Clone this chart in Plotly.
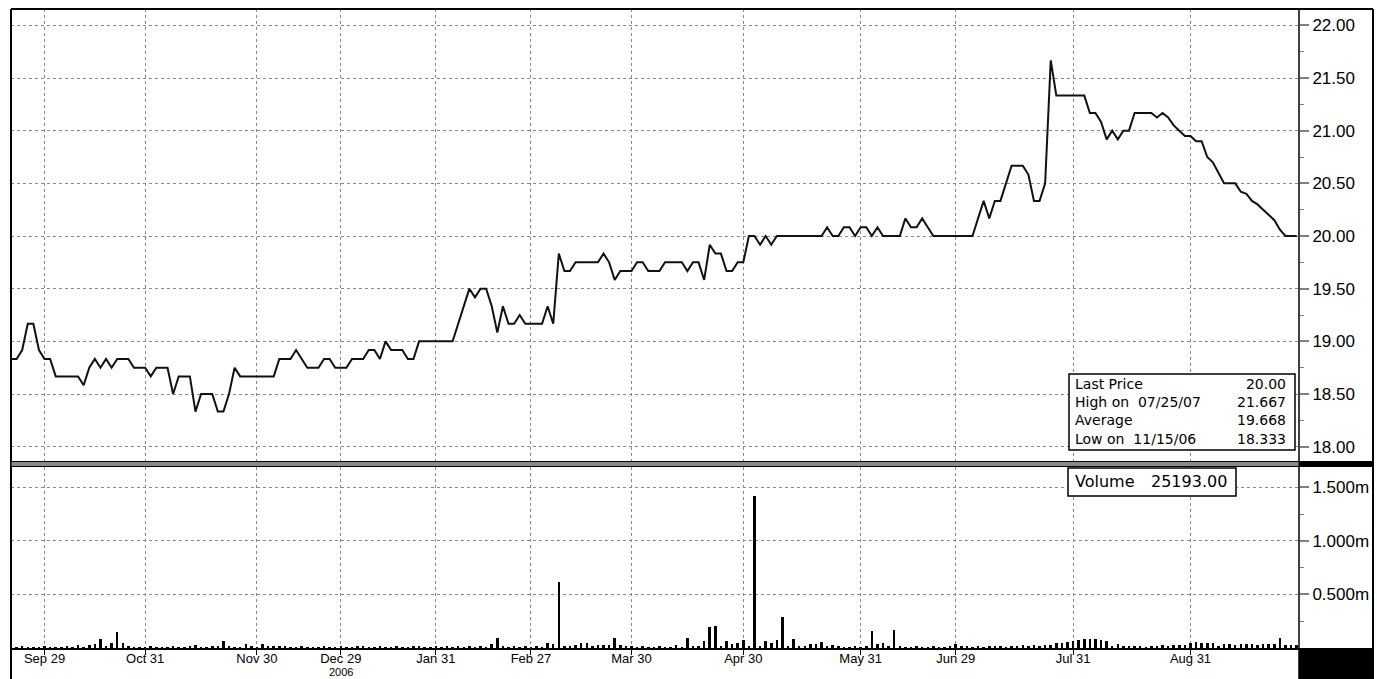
import plotly.graph_objects as go

# ---------------- data ----------------
price = [
    18.833, 18.833, 18.917, 19.167, 19.167, 18.917, 18.833, 18.833, 18.667, 18.667,
    18.667, 18.667, 18.667, 18.583, 18.75, 18.833, 18.75, 18.833, 18.75, 18.833,
    18.833, 18.833, 18.75, 18.75, 18.75, 18.667, 18.75, 18.75, 18.75, 18.5,
    18.667, 18.667, 18.667, 18.333, 18.5, 18.5, 18.5, 18.333, 18.333, 18.5,
    18.75, 18.667, 18.667, 18.667, 18.667, 18.667, 18.667, 18.667, 18.833, 18.833,
    18.833, 18.917, 18.833, 18.75, 18.75, 18.75, 18.833, 18.833, 18.75, 18.75,
    18.75, 18.833, 18.833, 18.833, 18.917, 18.917, 18.833, 19.0, 18.917, 18.917,
    18.917, 18.833, 18.833, 19.0, 19.0, 19.0, 19.0, 19.0, 19.0, 19.0,
    19.167, 19.333, 19.5, 19.417, 19.5, 19.5, 19.333, 19.083, 19.333, 19.167,
    19.167, 19.25, 19.167, 19.167, 19.167, 19.167, 19.333, 19.167, 19.833, 19.667,
    19.667, 19.75, 19.75, 19.75, 19.75, 19.75, 19.833, 19.75, 19.583, 19.667,
    19.667, 19.667, 19.75, 19.75, 19.667, 19.667, 19.667, 19.75, 19.75, 19.75,
    19.75, 19.667, 19.75, 19.75, 19.583, 19.917, 19.833, 19.833, 19.667, 19.667,
    19.75, 19.75, 20.0, 20.0, 19.917, 20.0, 19.917, 20.0, 20.0, 20.0,
    20.0, 20.0, 20.0, 20.0, 20.0, 20.0, 20.083, 20.0, 20.0, 20.083,
    20.083, 20.0, 20.083, 20.083, 20.0, 20.083, 20.0, 20.0, 20.0, 20.0,
    20.167, 20.083, 20.083, 20.167, 20.083, 20.0, 20.0, 20.0, 20.0, 20.0,
    20.0, 20.0, 20.0, 20.167, 20.333, 20.167, 20.333, 20.333, 20.5, 20.667,
    20.667, 20.667, 20.583, 20.333, 20.333, 20.5, 21.667, 21.333, 21.333, 21.333,
    21.333, 21.333, 21.333, 21.167, 21.167, 21.083, 20.917, 21.0, 20.917, 21.0,
    21.0, 21.167, 21.167, 21.167, 21.167, 21.125, 21.167, 21.125, 21.05, 21.0,
    20.95, 20.95, 20.9, 20.9, 20.75, 20.7, 20.6, 20.5, 20.5, 20.5,
    20.42, 20.4, 20.333, 20.3, 20.25, 20.2, 20.15, 20.06, 20.0, 20.0,
    20.0,
]

volume = [
    15000, 12000, 15000, 12000, 14000, 12000, 15000, 12000, 14000, 12000,
    15000, 14000, 25000, 12000, 25000, 35000, 80000, 15000, 50000, 150000,
    45000, 15000, 12000, 14000, 12000, 15000, 12000, 14000, 12000, 15000,
    14000, 12000, 15000, 30000, 14000, 12000, 15000, 20000, 65000, 15000,
    12000, 14000, 35000, 15000, 12000, 35000, 18000, 20000, 18000, 15000,
    12000, 14000, 15000, 12000, 14000, 12000, 15000, 14000, 12000, 15000,
    12000, 14000, 15000, 20000, 14000, 12000, 20000, 14000, 12000, 15000,
    14000, 12000, 15000, 20000, 12000, 14000, 15000, 14000, 20000, 12000,
    15000, 14000, 15000, 12000, 20000, 14000, 38000, 95000, 15000, 12000,
    20000, 14000, 20000, 12000, 15000, 14000, 50000, 40000, 615000, 20000,
    15000, 30000, 45000, 50000, 20000, 30000, 25000, 25000, 95000, 25000,
    15000, 20000, 14000, 15000, 14000, 12000, 15000, 14000, 12000, 25000,
    14000, 95000, 20000, 20000, 70000, 198000, 210000, 15000, 70000, 40000,
    45000, 75000, 15000, 1420000, 20000, 70000, 50000, 75000, 290000, 15000,
    85000, 15000, 20000, 40000, 35000, 60000, 20000, 30000, 15000, 14000,
    12000, 15000, 14000, 20000, 155000, 40000, 50000, 15000, 165000, 15000,
    14000, 12000, 15000, 14000, 12000, 15000, 14000, 12000, 15000, 40000,
    20000, 15000, 14000, 15000, 12000, 15000, 20000, 15000, 14000, 20000,
    15000, 25000, 20000, 25000, 20000, 25000, 30000, 45000, 50000, 55000,
    70000, 75000, 80000, 80000, 80000, 75000, 70000, 20000, 40000, 15000,
    20000, 15000, 20000, 14000, 15000, 20000, 25000, 20000, 25000, 30000,
    25000, 50000, 55000, 50000, 50000, 45000, 20000, 35000, 40000, 30000,
    40000, 35000, 40000, 30000, 40000, 35000, 40000, 95000, 30000, 25000,
    25193,
]

tick_idx = [6, 24, 44, 59, 76, 93, 111, 131, 152, 169, 190, 211]
tick_labels = ["Sep 29", "Oct 31", "Nov 30", "Dec 29", "Jan 31", "Feb 27",
               "Mar 30", "Apr 30", "May 31", "Jun 29", "Jul 31", "Aug 31"]
year_label = "2006"
year_label_tick = 3   # the year sits under the "Dec 29" tick

price_ticks = [18.0, 18.5, 19.0, 19.5, 20.0, 20.5, 21.0, 21.5, 22.0]
volume_ticks = [500000, 1000000, 1500000]
volume_tick_labels = ["0.500m", "1.000m", "1.500m"]

stat_labels = ["Last Price", "High on  07/25/07", "Average", "Low on  11/15/06"]
stat_values = ["20.00", "21.667", "19.668", "18.333"]
volume_label = "Volume"

# ---------------- geometry helpers ----------------
W, H = 1377, 679
L, R, T, B = 11, 78, 9, 31
PW, PH = W - L - R, H - T - B


def pxx(px):
    return (px - L) / PW


def pxy(py):
    return (H - B - py) / PH


FONT = "Liberation Sans, Arial, sans-serif"
BOXFONT = "DejaVu Sans, Verdana, sans-serif"
GRID = "#8a8a8a"

x = list(range(len(price)))

fig = go.Figure()
fig.add_trace(go.Bar(x=x, y=volume, xaxis="x", yaxis="y2",
                     marker=dict(color="black", line=dict(width=0)),
                     width=0.45, hoverinfo="skip"))
fig.add_trace(go.Scatter(x=x, y=price, xaxis="x2", yaxis="y", mode="lines",
                         line=dict(color="#111111", width=2), hoverinfo="skip"))

x_range = [0, PW / 5.59]

fig.update_layout(
    width=W, height=H, autosize=False,
    margin=dict(l=L, r=R, t=T, b=B, pad=0, autoexpand=False),
    paper_bgcolor="white", plot_bgcolor="white",
    showlegend=False, bargap=0,
    font=dict(family=FONT, color="black"),
    xaxis=dict(domain=[0, 1], anchor="y2", range=x_range, automargin=False,
               tickvals=tick_idx, ticktext=tick_labels,
               tickfont=dict(size=13, family=FONT, color="black"),
               ticks="outside", ticklen=5, tickcolor="black", tickwidth=1,
               ticklabelstandoff=-8,
               showgrid=True, gridcolor=GRID, griddash="3px,3px", gridwidth=1,
               showline=True, linecolor="black", linewidth=2,
               zeroline=False, fixedrange=True),
    xaxis2=dict(domain=[0, 1], anchor="y", matches="x", range=x_range, automargin=False,
                tickvals=tick_idx, showticklabels=False, ticks="",
                showgrid=True, gridcolor=GRID, griddash="3px,3px", gridwidth=1,
                showline=False, zeroline=False),
    yaxis=dict(domain=[pxy(461), 1], anchor="x2", side="right", automargin=False,
               range=[17.864, 22.155],
               tickvals=price_ticks, ticktext=[f"{v:.2f}" for v in price_ticks],
               tickfont=dict(size=17, family=FONT, color="black"),
               ticks="outside", ticklen=9, tickwidth=2, tickcolor="#808080",
               minor=dict(tickvals=[(a + b) / 2 for a, b in zip(price_ticks[:-1], price_ticks[1:])],
                          ticks="outside", ticklen=4, tickcolor="#808080", tickwidth=1,
                          showgrid=False),
               showgrid=True, gridcolor=GRID, griddash="3px,3px", gridwidth=1,
               showline=False, zeroline=False),
    yaxis2=dict(domain=[0, pxy(467)], anchor="x", side="right", automargin=False,
                range=[0, 1.69e6],
                tickvals=volume_ticks, ticktext=volume_tick_labels,
                tickfont=dict(size=17, family=FONT, color="black"),
                ticks="outside", ticklen=9, tickwidth=2, tickcolor="#808080",
                minor=dict(tickvals=[250000, 750000, 1250000],
                           ticks="outside", ticklen=4, tickcolor="#808080", tickwidth=1,
                           showgrid=False),
                showgrid=True, gridcolor=GRID, griddash="3px,3px", gridwidth=1,
                showline=False, zeroline=False),
)

shapes = []
blk = dict(color="black", width=2)
# outer frame
shapes.append(dict(type="line", xref="paper", yref="paper", x0=pxx(11), x1=pxx(11),
                   y0=pxy(9), y1=pxy(690), line=blk))
shapes.append(dict(type="line", xref="paper", yref="paper", x0=pxx(11), x1=pxx(1373),
                   y0=pxy(9), y1=pxy(9), line=blk))
shapes.append(dict(type="line", xref="paper", yref="paper", x0=pxx(1373), x1=pxx(1373),
                   y0=pxy(9), y1=pxy(690), line=blk))
# right axis line
shapes.append(dict(type="line", xref="paper", yref="paper", x0=pxx(1299), x1=pxx(1299),
                   y0=pxy(9), y1=pxy(690), line=dict(color="black", width=1.5)))
# separator between panels
shapes.append(dict(type="rect", xref="paper", yref="paper", x0=pxx(11), x1=pxx(1299),
                   y0=pxy(466.5), y1=pxy(461.5), fillcolor="#8a8a8a",
                   line=dict(color="black", width=1)))
shapes.append(dict(type="rect", xref="paper", yref="paper", x0=pxx(1299), x1=pxx(1373),
                   y0=pxy(467), y1=pxy(461), fillcolor="black", line=dict(width=0)))
# bottom-right black block
shapes.append(dict(type="rect", xref="paper", yref="paper", x0=pxx(1299), x1=pxx(1373),
                   y0=pxy(690), y1=pxy(648), fillcolor="black", line=dict(width=0)))
# stats box
shapes.append(dict(type="rect", xref="paper", yref="paper", x0=pxx(1069), x1=pxx(1295),
                   y0=pxy(450), y1=pxy(374), fillcolor="white",
                   line=dict(color="black", width=1.5)))
# volume box
shapes.append(dict(type="rect", xref="paper", yref="paper", x0=pxx(1068), x1=pxx(1236),
                   y0=pxy(496), y1=pxy(468), fillcolor="white",
                   line=dict(color="black", width=1.5)))

annotations = []
annotations.append(dict(xref="paper", yref="paper", x=pxx(1073), y=pxy(411),
                        xanchor="left", yanchor="middle", align="left",
                        text="<br>".join(stat_labels), showarrow=False,
                        font=dict(size=14, family=BOXFONT, color="black")))
annotations.append(dict(xref="paper", yref="paper", x=pxx(1288), y=pxy(411),
                        xanchor="right", yanchor="middle", align="right",
                        text="<br>".join(stat_values), showarrow=False,
                        font=dict(size=14, family=BOXFONT, color="black")))
annotations.append(dict(xref="paper", yref="paper", x=pxx(1073), y=pxy(481),
                        xanchor="left", yanchor="middle", text=volume_label, showarrow=False,
                        font=dict(size=16, family=BOXFONT, color="black")))
annotations.append(dict(xref="paper", yref="paper", x=pxx(1229), y=pxy(481),
                        xanchor="right", yanchor="middle", text=f"{volume[-1]:.2f}",
                        showarrow=False, font=dict(size=16, family=BOXFONT, color="black")))
annotations.append(dict(xref="x", yref="paper", x=tick_idx[year_label_tick], y=pxy(671.5),
                        xanchor="center", yanchor="middle", text=year_label,
                        borderpad=0, showarrow=False,
                        font=dict(size=11, family=FONT, color="black")))

fig.update_layout(shapes=shapes, annotations=annotations)

fig.write_html("out.html", config={"displayModeBar": False, "staticPlot": True},
               post_script="document.body.style.margin='0px';document.body.style.overflow='hidden';")
